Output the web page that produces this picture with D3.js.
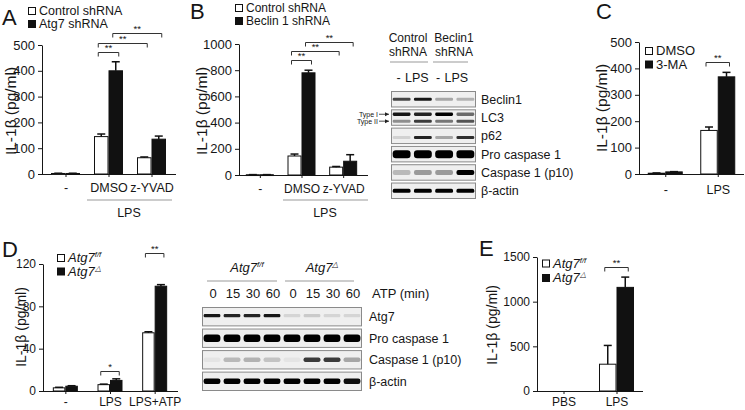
<!DOCTYPE html>
<html><head><meta charset="utf-8">
<script src="https://cdn.jsdelivr.net/npm/d3@7"></script>
<style>body{margin:0;background:#fff}svg{font-family:"Liberation Sans",Arial,sans-serif}</style>
</head><body><svg id="c" width="745" height="410"></svg>
<script>
// ---------- DATA ----------
const groupsA = ["-", "DMSO", "z-YVAD"];
const ctrlA = [2, 145, 63];
const ctrlErrA = [1, 10, 3];
const atg7A = [2, 400, 135];
const atg7ErrA = [1, 35, 12];
const ticksA = [0, 100, 200, 300, 400, 500];

const groupsB = ["-", "DMSO", "z-YVAD"];
const ctrlB = [2, 145, 60];
const ctrlErrB = [1, 15, 5];
const beclinB = [2, 780, 105];
const beclinErrB = [1, 20, 50];
const ticksB = [0, 200, 400, 600, 800, 1000];

const groupsC = ["-", "LPS"];
const dmsoC = [3, 165];
const dmsoErrC = [1, 13];
const maC = [8, 368];
const maErrC = [1, 17];
const ticksC = [0, 100, 200, 300, 400, 500];

const groupsD = ["-", "LPS", "LPS+ATP"];
const ffD = [3, 6, 55];
const ffErrD = [0.5, 0.5, 1];
const deltaD = [4.5, 10, 99];
const deltaErrD = [0.5, 1.5, 1.5];
const ticksD = [0, 40, 80, 120];

const groupsE = ["PBS", "LPS"];
const ffE = [0, 300];
const ffErrE = [0, 210];
const deltaE = [0, 1160];
const deltaErrE = [0, 115];
const ticksE = [0, 500, 1000, 1500];

// blot B (lanes: control -, control LPS, Beclin1 -, Beclin1 LPS)
const blotBLaneLabels = ["-", "LPS", "-", "LPS"];
const blotBRows = ["Beclin1", "LC3", "p62", "Pro caspase 1", "Caspase 1 (p10)", "β-actin"];
const bandB_beclin = [0.7, 0.9, 0.3, 0.25];
const bandB_lc3I = [0.9, 0.85, 1.0, 0.55];
const bandB_lc3II = [0.4, 0.75, 0.5, 0.65];
const bandB_p62 = [0.12, 0.85, 0.3, 0.8];
const bandB_pro = [1.0, 1.0, 1.0, 1.0];
const bandB_p10 = [0.22, 0.35, 0.35, 1.0];
const bandB_actin = [1.0, 1.0, 1.0, 1.0];

// blot D (lanes: ATP minutes for Atg7 f/f and Atg7 delta)
const blotDTimes = ["0", "15", "30", "60", "0", "15", "30", "60"];
const blotDRows = ["Atg7", "Pro caspase 1", "Caspase 1 (p10)", "β-actin"];
const bandD_atg7 = [0.9, 0.85, 0.85, 0.9, 0.1, 0.15, 0.1, 0.1];
const bandD_pro = [1, 1, 1, 1, 1, 1, 1, 1];
const bandD_p10 = [0.04, 0.22, 0.25, 0.18, 0.04, 0.75, 0.75, 0.3];
const bandD_actin = [1, 1, 1, 1, 1, 1, 1, 0.95];

// ---------- DRAW ----------
const svg = d3.select("#c");
const INK = "#161616";
const defs = svg.append("defs");
defs.append("filter").attr("id", "blur").attr("x", "-30%").attr("y", "-150%").attr("width", "160%").attr("height", "400%")
  .append("feGaussianBlur").attr("stdDeviation", 0.75);

function txt(g, x, y, s, size, anchor, extra) {
  const t = g.append("text").attr("x", x).attr("y", y).attr("font-size", size)
    .attr("text-anchor", anchor || "start").attr("fill", INK).text(s);
  if (extra) extra(t);
  return t;
}

function barPanel(o) {
  const g = svg.append("g");
  const x = d3.scalePoint().domain(o.groups).range(o.xRange).padding(0.5);
  const y = d3.scaleLinear().domain([0, o.ticks[o.ticks.length - 1]]).range([o.y0, o.yTop]);
  // y axis
  const ya = g.append("g").attr("transform", `translate(${o.axisX},0)`)
    .call(d3.axisLeft(y).tickValues(o.ticks).tickFormat(d3.format("d")).tickSize(4).tickSizeOuter(0).tickPadding(3));
  ya.attr("font-family", null).attr("font-size", o.tickFont);
  ya.selectAll("text").attr("fill", INK);
  ya.selectAll("line,path").attr("stroke", INK);
  // x axis
  const xa = g.append("g").attr("transform", `translate(0,${o.y0})`)
    .call(d3.axisBottom(x).tickSize(3).tickSizeOuter(0).tickPadding(o.xPad));
  xa.select(".domain").remove();
  xa.attr("font-family", null).attr("font-size", o.xFont);
  xa.selectAll("text").attr("fill", INK);
  xa.selectAll("line").attr("stroke", INK);
  g.append("line").attr("x1", o.axisX).attr("x2", o.axisEnd).attr("y1", o.y0 + 0.5).attr("y2", o.y0 + 0.5).attr("stroke", INK);
  // bars
  const bw = o.bw;
  o.series.forEach((s, si) => {
    o.groups.forEach((gr, i) => {
      const v = s.values[i], e = s.err[i];
      const bx = x(gr) - bw + si * bw;
      const cx = bx + bw / 2;
      if (v > 0) {
        g.append("rect").attr("x", bx + 0.5).attr("y", y(v)).attr("width", bw - 1)
          .attr("height", Math.max(0.8, y(0) - y(v)))
          .attr("fill", si === 0 ? "#fff" : "#111").attr("stroke", "#111").attr("stroke-width", 1);
      }
      if (e > 0) {
        g.append("line").attr("x1", cx).attr("x2", cx).attr("y1", y(v)).attr("y2", y(v + e)).attr("stroke", "#111").attr("stroke-width", 1.5);
        g.append("line").attr("x1", cx - 4).attr("x2", cx + 4).attr("y1", y(v + e)).attr("y2", y(v + e)).attr("stroke", "#111").attr("stroke-width", 1.5);
      }
    });
  });
  // brackets
  (o.brackets || []).forEach(b => {
    const x1 = x(o.groups[b[0]]) - bw + b[1] * bw + bw / 2 - 3;
    const x2 = x(o.groups[b[2]]) - bw + b[3] * bw + bw / 2 + 3;
    const yy = Math.round(y(b[4])) + 0.5;
    g.append("path").attr("d", `M${x1},${yy + 4}V${yy}H${x2}V${yy + 4}`).attr("fill", "none").attr("stroke", "#333").attr("stroke-width", 1);
    txt(g, (x1 + x2) / 2, yy - 2, b[5], 9.5, "middle");
  });
  // y label
  txt(g, 0, 0, "IL-1β (pg/ml)", o.labFont, "middle", t => t.attr("transform", `translate(${o.labX},${o.labY}) rotate(-90)`).attr("dy", "0.35em"));
  // legend
  o.legend.forEach((L, i) => {
    const ly = o.legY + i * o.legStep;
    g.append("rect").attr("x", o.legX + 0.5).attr("y", ly - 7.5).attr("width", 7).attr("height", 7)
      .attr("fill", i === 0 ? "#fff" : "#111").attr("stroke", "#111");
    const t = txt(g, o.legX + 11, ly, "", o.legFont, "start");
    if (L.sup !== undefined) {
      t.attr("font-style", "italic");
      t.append("tspan").text(L.text);
      t.append("tspan").attr("font-size", o.legFont * 0.6).attr("dy", -5).text(L.sup);
    } else t.text(L.text);
  });
  // panel letter
  txt(g, o.letter[1], o.letter[2], o.letter[0], 22, "start");
  return { g, x, y };
}

// Panel A
const pA = barPanel({
  groups: groupsA, xRange: [44, 173], axisX: 42, axisEnd: 176, y0: 174, yTop: 45, ticks: ticksA,
  tickFont: 13, xFont: 12.5, xPad: 6, bw: 14.5,
  series: [{ values: ctrlA, err: ctrlErrA }, { values: atg7A, err: atg7ErrA }],
  brackets: [[1, 0, 1, 1, 473, "**"], [1, 0, 2, 0, 508, "**"], [1, 1, 2, 1, 547, "**"]],
  labX: 11, labY: 111, labFont: 15.5,
  legend: [{ text: "Control shRNA" }, { text: "Atg7 shRNA" }], legX: 28, legY: 15, legStep: 13, legFont: 12.5,
  letter: ["A", 2, 25]
});
pA.g.append("line").attr("x1", 87).attr("x2", 172).attr("y1", 200).attr("y2", 200).attr("stroke", "#999");
txt(pA.g, 129, 217, "LPS", 12.5, "middle");

// Panel B
const pB = barPanel({
  groups: groupsB, xRange: [239, 364], axisX: 239, axisEnd: 368, y0: 175, yTop: 44, ticks: ticksB,
  tickFont: 13, xFont: 12, xPad: 6, bw: 14,
  series: [{ values: ctrlB, err: ctrlErrB }, { values: beclinB, err: beclinErrB }],
  brackets: [[1, 0, 1, 1, 875, "**"], [1, 0, 2, 0, 945, "**"], [1, 1, 2, 1, 1015, "**"]],
  labX: 202, labY: 111, labFont: 15.5,
  legend: [{ text: "Control shRNA" }, { text: "Beclin 1 shRNA" }], legX: 235, legY: 12, legStep: 13, legFont: 12,
  letter: ["B", 190, 19]
});
pB.g.append("line").attr("x1", 283).attr("x2", 368).attr("y1", 200).attr("y2", 200).attr("stroke", "#999");
txt(pB.g, 325, 217, "LPS", 12.5, "middle");

// Panel C
const pC = barPanel({
  groups: groupsC, xRange: [639, 744], axisX: 639, axisEnd: 744, y0: 174, yTop: 42, ticks: ticksC,
  tickFont: 13, xFont: 12.5, xPad: 8, bw: 17.5,
  series: [{ values: dmsoC, err: dmsoErrC }, { values: maC, err: maErrC }],
  brackets: [[1, 0, 1, 1, 424, "**"]],
  labX: 602, labY: 108, labFont: 15.5,
  legend: [{ text: "DMSO" }, { text: "3-MA" }], legX: 645, legY: 55, legStep: 13.5, legFont: 13,
  letter: ["C", 596, 19]
});

// Panel D
const pD = barPanel({
  groups: groupsD, xRange: [43, 177], axisX: 43, axisEnd: 178, y0: 391, yTop: 264, ticks: ticksD,
  tickFont: 12, xFont: 12, xPad: 3, bw: 12.5,
  series: [{ values: ffD, err: ffErrD }, { values: deltaD, err: deltaErrD }],
  brackets: [[1, 0, 1, 1, 18.9, "*"], [2, 0, 2, 1, 130.4, "**"]],
  labX: 21, labY: 327, labFont: 14,
  legend: [{ text: "Atg7", sup: "f/f" }, { text: "Atg7", sup: "△" }], legX: 57, legY: 262, legStep: 13.5, legFont: 13,
  letter: ["D", 2, 257]
});

// Panel E
const pE = barPanel({
  groups: groupsE, xRange: [537, 643], axisX: 537, axisEnd: 643, y0: 391, yTop: 257, ticks: ticksE,
  tickFont: 12, xFont: 12, xPad: 3, bw: 17.5,
  series: [{ values: ffE, err: ffErrE }, { values: deltaE, err: deltaErrE }],
  brackets: [[1, 0, 1, 1, 1388, "**"]],
  labX: 492, labY: 325, labFont: 14,
  legend: [{ text: "Atg7", sup: "f/f" }, { text: "Atg7", sup: "△" }], legX: 542, legY: 267.5, legStep: 14.5, legFont: 13,
  letter: ["E", 479, 256]
});

// ---------- BLOTS ----------
function band(g, cx, cy, w, h, a) {
  if (a <= 0) return;
  g.append("rect").attr("x", cx - w / 2).attr("y", cy - h / 2).attr("width", w).attr("height", h)
    .attr("rx", h / 2.5).attr("fill", "#050505").attr("opacity", a).attr("filter", "url(#blur)");
}

function blot(o) {
  const g = svg.append("g");
  const lane = d3.scaleBand().domain(d3.range(o.nLanes)).range(o.xRange);
  const row = d3.scaleBand().domain(o.rows).range(o.yRange).paddingInner(o.rowPad);
  o.rows.forEach((r, ri) => {
    g.append("rect").attr("x", o.xRange[0] + 0.5).attr("y", row(r) + 0.5).attr("width", o.xRange[1] - o.xRange[0] - 1)
      .attr("height", row.bandwidth() - 1).attr("fill", "#efefef").attr("stroke", "#8a8a8a");
    txt(g, o.labelX, row(r) + row.bandwidth() / 2, r, 12.5, "start", t => t.attr("dy", "0.36em"));
    o.bands[ri].forEach(b => {
      b.vals.forEach((a, li) => {
        band(g, lane(li) + lane.bandwidth() / 2, row(r) + row.bandwidth() * b.pos, lane.bandwidth() * 0.84, b.h, a);
      });
    });
  });
  return { g, lane, row };
}

const bB = blot({
  nLanes: 4, xRange: [391, 476], yRange: [91, 199], rows: blotBRows, rowPad: 0.1, labelX: 481,
  bands: [
    [{ vals: bandB_beclin, pos: 0.5, h: 3 }],
    [{ vals: bandB_lc3I, pos: 0.3, h: 3.4 }, { vals: bandB_lc3II, pos: 0.72, h: 3 }],
    [{ vals: bandB_p62, pos: 0.6, h: 3.2 }],
    [{ vals: bandB_pro, pos: 0.5, h: 8 }],
    [{ vals: bandB_p10, pos: 0.5, h: 5 }],
    [{ vals: bandB_actin, pos: 0.5, h: 3.8 }]
  ]
});
// headers B
txt(bB.g, 408, 42, "Control", 12, "middle");
txt(bB.g, 408, 56, "shRNA", 12, "middle");
txt(bB.g, 454, 42, "Beclin1", 12, "middle");
txt(bB.g, 454, 56, "shRNA", 12, "middle");
bB.g.append("line").attr("x1", 390).attr("x2", 428).attr("y1", 62).attr("y2", 62).attr("stroke", "#999");
bB.g.append("line").attr("x1", 433).attr("x2", 468).attr("y1", 62).attr("y2", 62).attr("stroke", "#999");
blotBLaneLabels.forEach((s, i) => txt(bB.g, bB.lane(i) + bB.lane.bandwidth() / 2 - 3 - (i % 2) * 3 - (i > 1 ? 3 : 0), 82, s, 12.5, "middle"));
// Type I / Type II arrows
const lc3Top = bB.row("LC3"), lc3H = bB.row.bandwidth();
[["Type  I", 0.3], ["Type II", 0.72]].forEach(([s, p]) => {
  const yy = lc3Top + lc3H * p;
  txt(bB.g, 378, yy + 2.5, s, 7, "end");
  bB.g.append("path").attr("d", `M379,${yy}H389`).attr("stroke", "#222").attr("stroke-width", 0.8);
  bB.g.append("path").attr("d", `M389,${yy}l-4,-2v4z`).attr("fill", "#222");
});

const bD = blot({
  nLanes: 8, xRange: [202, 362], yRange: [307, 391], rows: blotDRows, rowPad: 0.1, labelX: 369,
  bands: [
    [{ vals: bandD_atg7, pos: 0.45, h: 3.2 }],
    [{ vals: bandD_pro, pos: 0.5, h: 7.5 }],
    [{ vals: bandD_p10, pos: 0.5, h: 4.5 }],
    [{ vals: bandD_actin, pos: 0.5, h: 5.5 }]
  ]
});
blotDTimes.forEach((s, i) => txt(bD.g, bD.lane(i) + bD.lane.bandwidth() / 2 + 1, 298, s, 13, "middle"));
txt(bD.g, 372, 298, "ATP (min)", 13, "start");
[["f/f", 247], ["△", 322]].forEach(([sup, cx]) => {
  const t = txt(bD.g, cx, 272, "", 13, "middle").attr("font-style", "italic");
  t.append("tspan").text("Atg7");
  t.append("tspan").attr("font-size", 8).attr("dy", -5).text(sup);
});
bD.g.append("line").attr("x1", 207).attr("x2", 277).attr("y1", 281).attr("y2", 281).attr("stroke", "#999");
bD.g.append("line").attr("x1", 285).attr("x2", 354).attr("y1", 281).attr("y2", 281).attr("stroke", "#999");
</script></body></html>
